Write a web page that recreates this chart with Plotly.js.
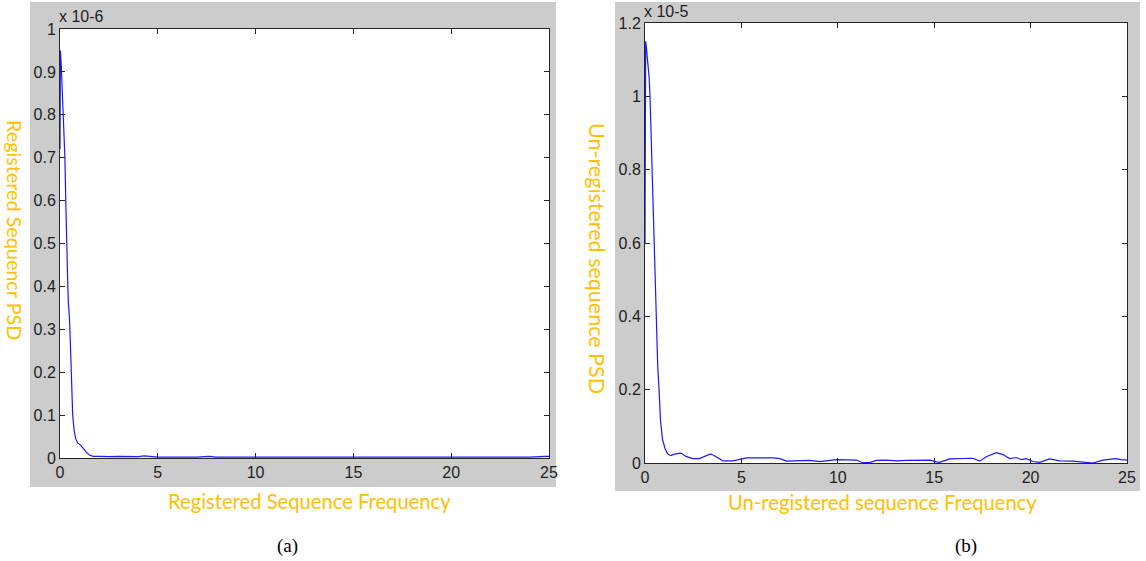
<!DOCTYPE html>
<html>
<head>
<meta charset="utf-8">
<script src="https://cdn.plot.ly/plotly-3.0.1.min.js"></script>
<style>html,body{margin:0;padding:0;background:#fff;}#chart{width:1146px;height:561px;}</style>
</head>
<body>
<div id="chart"></div>
<script>
// Panel (a): registered sequence PSD, values in units of 1e-6
var freqA = [0.00,0.02,0.06,0.12,0.18,0.25,0.30,0.33,0.37,0.40,0.43,0.48,0.52,0.56,0.60,0.65,0.72,0.80,0.90,1.05,1.20,1.35,1.50,1.70,2.0,2.5,3.0,3.5,4.0,4.3,4.6,5.0,6.0,7.0,7.6,8.0,9.0,12.0,15.0,18.0,21.0,24.0,24.8,25.0];
var psdA  = [0.72,0.95,0.92,0.86,0.79,0.70,0.59,0.50,0.45,0.40,0.36,0.33,0.28,0.22,0.15,0.10,0.065,0.045,0.035,0.030,0.022,0.013,0.007,0.004,0.004,0.003,0.004,0.004,0.003,0.005,0.004,0.002,0.002,0.002,0.004,0.002,0.002,0.002,0.002,0.002,0.002,0.002,0.004,0.004];
// Panel (b): un-registered sequence PSD, values in units of 1e-5
var freqB = [0.00,0.035,0.07,0.12,0.21,0.26,0.31,0.38,0.45,0.51,0.56,0.59,0.66,0.73,0.80,0.91,1.03,1.17,1.34,1.52,1.86,2.13,2.47,2.82,3.17,3.40,3.69,4.04,4.56,5.0,5.26,6.65,7.0,7.34,8.38,8.55,9.07,9.41,9.93,10.97,11.23,11.66,12.0,12.52,13.04,13.56,14.77,15.11,15.28,15.80,16.67,17.01,17.36,17.70,18.22,18.57,18.91,19.26,19.52,19.78,20.12,20.47,20.98,21.5,22.19,22.88,23.23,23.75,24.44,24.70,25.0];
var psdB  = [0.60,1.15,1.136,1.105,1.055,1.00,0.90,0.77,0.67,0.57,0.48,0.355,0.264,0.20,0.118,0.064,0.041,0.025,0.020,0.024,0.027,0.018,0.012,0.012,0.020,0.025,0.017,0.006,0.006,0.010,0.014,0.014,0.012,0.005,0.005,0.007,0.004,0.006,0.009,0.008,0.002,0.001,0.007,0.008,0.006,0.007,0.008,0.003,0.002,0.011,0.011,0.013,0.005,0.017,0.028,0.023,0.012,0.015,0.009,0.012,0.004,0.002,0.011,0.006,0.005,0.002,0.000,0.008,0.012,0.009,0.008];
var xTicks = [0,5,10,15,20,25];
var yTicksA = [0,0.1,0.2,0.3,0.4,0.5,0.6,0.7,0.8,0.9,1];
var yTicksB = [0,0.2,0.4,0.6,0.8,1,1.2];
var yTickTextA = ['0','0.1','0.2','0.3','0.4','0.5','0.6','0.7','0.8','0.9','1'];
var yTickTextB = ['0','0.2','0.4','0.6','0.8','1','1.2'];

var W = 1146, H = 561;
function px(x){return x/W;}
function py(y){return 1 - y/H;}

var tickFont = {family:'Liberation Sans Narrow, Liberation Sans, Arial, sans-serif', size:16, color:'#1e1e1e'};
var capFont = {family:'Liberation Serif, Times New Roman, serif', size:19, color:'#000'};
function tf(size){return {family:'Lato, Open Sans, sans-serif', size:size, color:'#FFC000'};}

function axisBase(extra){
  var a = {showline:true, linecolor:'#262626', linewidth:1, mirror:'ticks', ticks:'inside', ticklen:5, tickcolor:'#262626', showgrid:false, zeroline:false, tickfont:tickFont, fixedrange:true};
  for (var k in extra) a[k]=extra[k];
  return a;
}

var traces = [
  {x:freqA, y:psdA, type:'scatter', mode:'lines', line:{color:'#1a1aff', width:1.2}, xaxis:'x', yaxis:'y', hoverinfo:'skip'},
  {x:freqB, y:psdB, type:'scatter', mode:'lines', line:{color:'#1a1aff', width:1.2}, xaxis:'x2', yaxis:'y2', hoverinfo:'skip'}
];

var layout = {
  width:W, height:H, margin:{l:0,r:0,t:0,b:0}, showlegend:false,
  paper_bgcolor:'#ffffff', plot_bgcolor:'#ffffff',
  xaxis: axisBase({domain:[px(60),px(549)], range:[0,25], tickvals:xTicks, ticktext:xTicks.map(String), anchor:'y'}),
  yaxis: axisBase({domain:[py(458),py(29)], range:[0,1], tickvals:yTicksA, ticktext:yTickTextA, anchor:'x'}),
  xaxis2: axisBase({domain:[px(645),px(1127)], range:[0,25], tickvals:xTicks, ticktext:xTicks.map(String), anchor:'y2'}),
  yaxis2: axisBase({domain:[py(463),py(23)], range:[0,1.2], tickvals:yTicksB, ticktext:yTickTextB, anchor:'x2'}),
  shapes: [
    {type:'rect', xref:'paper', yref:'paper', x0:px(30), x1:px(556), y0:py(487), y1:py(2), fillcolor:'#CCCCCC', line:{width:0}, layer:'below'},
    {type:'rect', xref:'paper', yref:'paper', x0:px(615), x1:px(1140), y0:py(491), y1:py(2), fillcolor:'#CCCCCC', line:{width:0}, layer:'below'},
    {type:'rect', xref:'paper', yref:'paper', x0:px(60), x1:px(549), y0:py(458), y1:py(29), fillcolor:'#FFFFFF', line:{width:0}, layer:'below'},
    {type:'rect', xref:'paper', yref:'paper', x0:px(645), x1:px(1127), y0:py(463), y1:py(23), fillcolor:'#FFFFFF', line:{width:0}, layer:'below'}
  ],
  annotations: [
    {text:'x 10-6', xref:'paper', yref:'paper', x:px(57), y:py(16), xanchor:'left', yanchor:'middle', showarrow:false, font:tickFont},
    {text:'x 10-5', xref:'paper', yref:'paper', x:px(642), y:py(11), xanchor:'left', yanchor:'middle', showarrow:false, font:tickFont},
    {text:'Registered Sequence Frequency', xref:'paper', yref:'paper', x:px(309), y:py(501), xanchor:'center', yanchor:'middle', showarrow:false, font:tf(20.2)},
    {text:'Un-registered sequence Frequency', xref:'paper', yref:'paper', x:px(882), y:py(502), xanchor:'center', yanchor:'middle', showarrow:false, font:tf(20.2)},
    {text:'Registered Sequencr PSD', xref:'paper', yref:'paper', x:px(15), y:py(230), xanchor:'center', yanchor:'middle', textangle:90, showarrow:false, font:tf(19.8)},
    {text:'Un-registered sequence PSD', xref:'paper', yref:'paper', x:px(597), y:py(258), xanchor:'center', yanchor:'middle', textangle:90, showarrow:false, font:tf(21.5)},
    {text:'(a)', xref:'paper', yref:'paper', x:px(287), y:py(546), xanchor:'center', yanchor:'middle', showarrow:false, font:capFont},
    {text:'(b)', xref:'paper', yref:'paper', x:px(966), y:py(546), xanchor:'center', yanchor:'middle', showarrow:false, font:capFont}
  ]
};

Plotly.newPlot('chart', traces, layout, {displayModeBar:false, staticPlot:true});
</script>
</body>
</html>
